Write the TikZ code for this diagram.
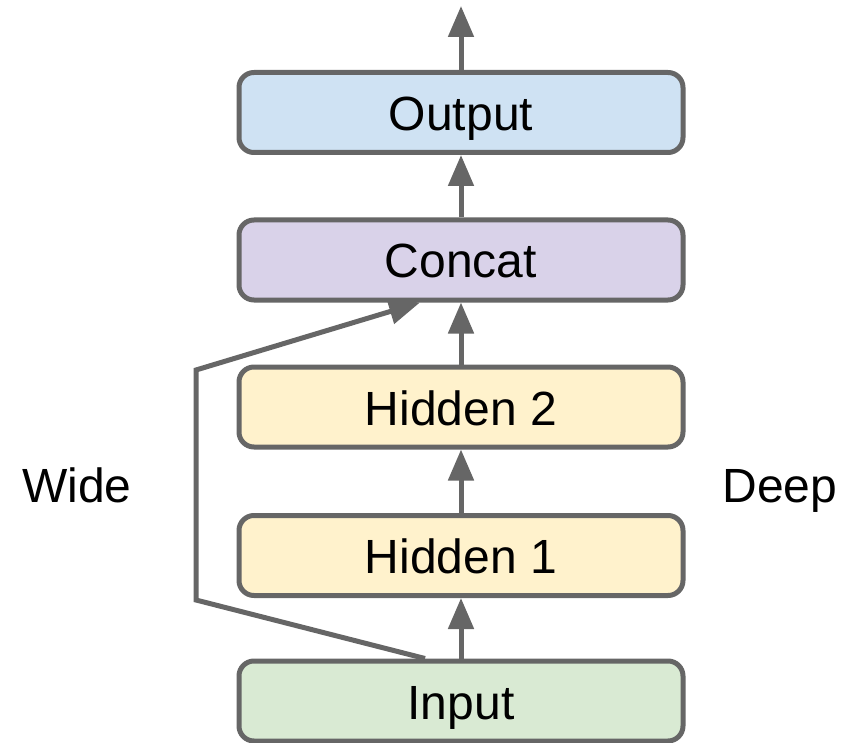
\documentclass[tikz,border=0pt]{standalone}
\usepackage{fontspec}
\setmainfont{Liberation Sans}
\usetikzlibrary{arrows.meta}
\definecolor{edge}{HTML}{666666}
\definecolor{cout}{HTML}{CFE2F3}
\definecolor{ccat}{HTML}{D9D2E9}
\definecolor{chid}{HTML}{FFF2CC}
\definecolor{cin}{HTML}{D9EAD3}
\tikzset{
  layer/.style={draw=edge, line width=5pt, rounded corners=15pt, minimum width=444pt, minimum height=80pt, font=\fontsize{48}{56}\selectfont, inner sep=0pt, text height=36pt, text depth=0pt},
  arr/.style={draw=edge, line width=5pt, -{Triangle[length=31pt,width=25pt]}},
  lbl/.style={font=\fontsize{48}{56}\selectfont, inner sep=0pt, text height=36pt, text depth=0pt}
}
\begin{document}
\begin{tikzpicture}[x=1pt,y=-1pt]
\useasboundingbox (0,0) rectangle (843,743);
\node[layer, fill=cout] (out) at (461,112.5) {Output};
\node[layer, fill=ccat] (cat) at (461,260) {Concat};
\node[layer, fill=chid] (h2) at (461,407) {Hidden 2};
\node[layer, fill=chid] (h1) at (461,555.5) {Hidden 1};
\node[layer, fill=cin] (in) at (461,701) {Input};
\node[lbl] (wide) at (77,484) {Wide};
\node[lbl] (deep) at (780,484) {Deep};
\coordinate (top) at (461,6);
\coordinate (b1) at (196,600);
\coordinate (b2) at (196,370);
\draw[arr] (in.north) -- (h1.south);
\draw[arr] (h1.north) -- (h2.south);
\draw[arr] (h2.north) -- (cat.south);
\draw[arr] (cat.north) -- (out.south);
\draw[arr] (out.north) -- (top);
\draw[arr] ([xshift=-36pt]in.north) -- (b1) -- (b2) -- ([xshift=-41pt]cat.south);
\end{tikzpicture}
\end{document}
